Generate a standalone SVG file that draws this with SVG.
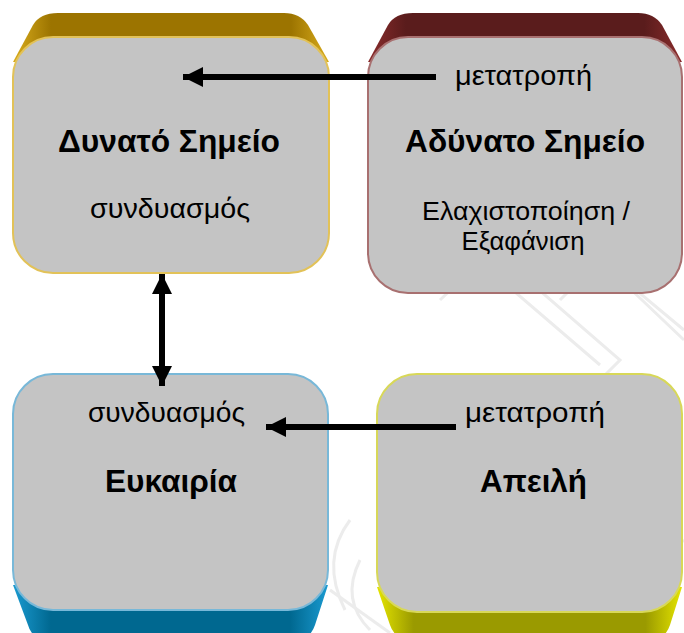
<svg xmlns="http://www.w3.org/2000/svg" width="684" height="633" viewBox="0 0 684 633">
<style>
.face{fill:#c4c4c4;stroke-width:2}
.t{font-family:"Liberation Sans",Arial,sans-serif;fill:#000;text-anchor:middle}
.b{font-weight:bold;font-size:31px}
.r{font-size:28px}
.s{font-size:26px}
.wm{fill:none;stroke:#ececec;stroke-width:3}
.conn{stroke:#000;stroke-width:6;fill:none}
</style>
<defs>
<linearGradient id="gGold" x1="0" y1="0" x2="1" y2="0">
<stop offset="0" stop-color="#d9ac1c"/><stop offset="0.12" stop-color="#9c7400"/><stop offset="0.88" stop-color="#9c7400"/><stop offset="1" stop-color="#d9ac1c"/>
</linearGradient>
<linearGradient id="gRed" x1="0" y1="0" x2="1" y2="0">
<stop offset="0" stop-color="#8a2c2c"/><stop offset="0.12" stop-color="#5a1c1c"/><stop offset="0.88" stop-color="#5a1c1c"/><stop offset="1" stop-color="#8a2c2c"/>
</linearGradient>
<linearGradient id="gBlue" x1="0" y1="0" x2="1" y2="0">
<stop offset="0" stop-color="#1a9ad0"/><stop offset="0.12" stop-color="#006890"/><stop offset="0.88" stop-color="#006890"/><stop offset="1" stop-color="#1a9ad0"/>
</linearGradient>
<linearGradient id="gYel" x1="0" y1="0" x2="1" y2="0">
<stop offset="0" stop-color="#e4e400"/><stop offset="0.12" stop-color="#9a9a00"/><stop offset="0.88" stop-color="#9a9a00"/><stop offset="1" stop-color="#e4e400"/>
</linearGradient>
<marker id="ah" viewBox="0 0 20 20" refX="20" refY="10" markerWidth="20" markerHeight="20" markerUnits="userSpaceOnUse" orient="auto-start-reverse">
<path d="M0,0 L20,10 L0,20 Z" fill="#000"/>
</marker>
</defs>
<rect width="684" height="633" fill="#fff"/>
<g id="watermark">
<path class="wm" d="M410,290 L470,230 L620,360 L560,420"/>
<path class="wm" d="M440,300 L480,262 L600,365"/>
<path class="wm" d="M500,250 L540,210 L684,330"/>
<path class="wm" d="M560,300 L600,260 L684,340"/>
<path class="wm" d="M360,560 Q340,600 370,630"/>
<path class="wm" d="M350,520 Q320,560 345,610"/>
<path class="wm" d="M330,590 L390,633"/>
<path class="wm" d="M660,560 L684,540"/>
</g>
<g id="strength">
<path d="M13,62 L33,25 Q40,13 58,13 L284,13 Q300,13 308,25 L329,62 Z" fill="url(#gGold)"/>
<rect class="face" x="13" y="37" width="316" height="236" rx="40" stroke="#e2c258"/>
<text class="t b" x="169" y="152" textLength="222" lengthAdjust="spacingAndGlyphs">Δυνατό Σημείο</text>
<text class="t r" x="170" y="218" textLength="160" lengthAdjust="spacingAndGlyphs">συνδυασμός</text>
</g>
<g id="weakness">
<path d="M368,62 L388,25 Q395,13 413,13 L638,13 Q654,13 662,25 L682,62 Z" fill="url(#gRed)"/>
<rect class="face" x="368" y="37" width="314" height="256" rx="40" stroke="#a87070"/>
<text class="t r" x="523.5" y="85" textLength="137" lengthAdjust="spacingAndGlyphs">μετατροπή</text>
<text class="t b" x="525" y="152" textLength="240" lengthAdjust="spacingAndGlyphs">Αδύνατο Σημείο</text>
<text class="t s" x="526" y="220" textLength="208" lengthAdjust="spacingAndGlyphs">Ελαχιστοποίηση /</text>
<text class="t s" x="523" y="250" textLength="123" lengthAdjust="spacingAndGlyphs">Εξαφάνιση</text>
</g>
<g id="opportunity">
<path d="M13,585 L28,625 Q32,640 50,640 L295,640 Q310,640 315,625 L328,585 Z" fill="url(#gBlue)"/>
<rect class="face" x="13" y="374" width="315" height="236" rx="40" stroke="#78b8d8"/>
<text class="t r" x="166.5" y="422" textLength="157" lengthAdjust="spacingAndGlyphs">συνδυασμός</text>
<text class="t b" x="171" y="492" textLength="132" lengthAdjust="spacingAndGlyphs">Ευκαιρία</text>
</g>
<g id="threat">
<path d="M377,587 L390,625 Q395,640 412,640 L650,640 Q665,640 670,625 L682,587 Z" fill="url(#gYel)"/>
<rect class="face" x="377" y="374" width="305" height="238" rx="40" stroke="#d8d858"/>
<text class="t r" x="535" y="422" textLength="140" lengthAdjust="spacingAndGlyphs">μετατροπή</text>
<text class="t b" x="533.5" y="492" textLength="107" lengthAdjust="spacingAndGlyphs">Απειλή</text>
</g>
<g id="connectors">
<line class="conn" x1="436" y1="77" x2="183" y2="77" marker-end="url(#ah)"/>
<line class="conn" x1="162" y1="274" x2="162" y2="386" marker-start="url(#ah)" marker-end="url(#ah)"/>
<line class="conn" x1="456" y1="427" x2="266" y2="427" marker-end="url(#ah)"/>
</g>
</svg>
